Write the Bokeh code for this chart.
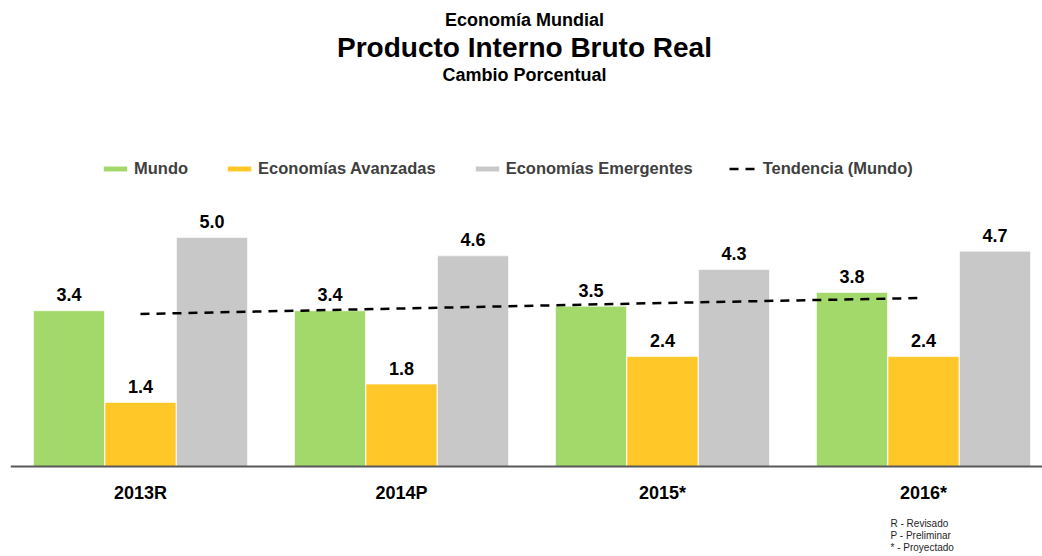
from bokeh.plotting import figure
from bokeh.models import Range1d, Legend, LegendItem, Label, Span
from bokeh.core.properties import value
from bokeh.embed import file_html
from bokeh.resources import INLINE

categories = ["2013R", "2014P", "2015*", "2016*"]
mundo = [3.4, 3.4, 3.5, 3.8]
avanzadas = [1.4, 1.8, 2.4, 2.4]
emergentes = [5.0, 4.6, 4.3, 4.7]
tendencia = [3.33, 3.45, 3.57, 3.68]
series_names = ["Mundo", "Economías Avanzadas", "Economías Emergentes"]
trend_name = "Tendencia (Mundo)"
title_lines = ["Economía Mundial", "Producto Interno Bruto Real", "Cambio Porcentual"]
notes = ["R - Revisado", "P - Preliminar", "* - Proyectado"]

colors = ["#A3D86A", "#FFC828", "#C8C8C8"]
FONT = "Liberation Sans"

p = figure(width=1042, height=556, output_backend="svg", toolbar_location=None,
           x_range=Range1d(-0.498, 3.456), y_range=Range1d(-1.965, 10.175),
           x_axis_location=None, y_axis_location=None,
           min_border_left=10, min_border_right=0,
           min_border_top=0, min_border_bottom=0, outline_line_color=None)
p.xgrid.visible = False
p.ygrid.visible = False

# baseline (category axis line) at value 0
p.add_layout(Span(location=0, dimension="width", line_color="#595959", line_width=2))

cat_x = list(range(len(categories)))
p.text(x=cat_x, y=[0] * len(categories), text=categories, text_align="center",
       text_baseline="middle", y_offset=26, text_font=value(FONT),
       text_font_style="bold", text_font_size="18px", text_color="black")

offsets = [-0.274, 0.0, 0.274]
bar_w = 0.272
renderers = []
for vals, col, off in zip([mundo, avanzadas, emergentes], colors, offsets):
    xs = [i + off for i in cat_x]
    r = p.vbar(x=xs, top=vals, width=bar_w, bottom=0, fill_color=col,
               line_color="white", line_width=1, line_alpha=0.6)
    renderers.append(r)
    p.text(x=xs, y=vals, text=[f"{v:.1f}" for v in vals], text_align="center",
           text_baseline="middle", y_offset=-16, text_font=value(FONT),
           text_font_style="bold", text_font_size="18px", text_color="black")

tr = p.line(x=cat_x, y=tendencia, line_color="black", line_width=2.5, line_dash="9 7")

items = [LegendItem(label=n, renderers=[r]) for n, r in zip(series_names, renderers)]
items.append(LegendItem(label=trend_name, renderers=[tr]))
legend = Legend(items=items, orientation="horizontal", location=(90, 378),
                spacing=36, glyph_width=30, glyph_height=7, label_standoff=4,
                label_height=20, label_text_font=FONT, label_text_font_style="bold",
                label_text_font_size="16.5px", label_text_color="#404040",
                padding=0, margin=0, border_line_color=None, background_fill_alpha=0)
p.add_layout(legend, "center")

title_sizes = ["18px", "28px", "18px"]
title_ys = [537, 509, 482]
for t, s, y in zip(title_lines, title_sizes, title_ys):
    p.add_layout(Label(x=514, y=y, x_units="screen", y_units="screen", text=t,
                       text_align="center", text_baseline="middle", text_font=FONT,
                       text_font_style="bold", text_font_size=s, text_color="black"))

note_ys = [33, 21, 9]
for n, y in zip(notes, note_ys):
    p.add_layout(Label(x=880, y=y, x_units="screen", y_units="screen", text=n,
                       text_align="left", text_baseline="middle", text_font=FONT,
                       text_font_size="10px", text_color="#262626"))

open("out.html", "w").write(file_html(p, INLINE))
